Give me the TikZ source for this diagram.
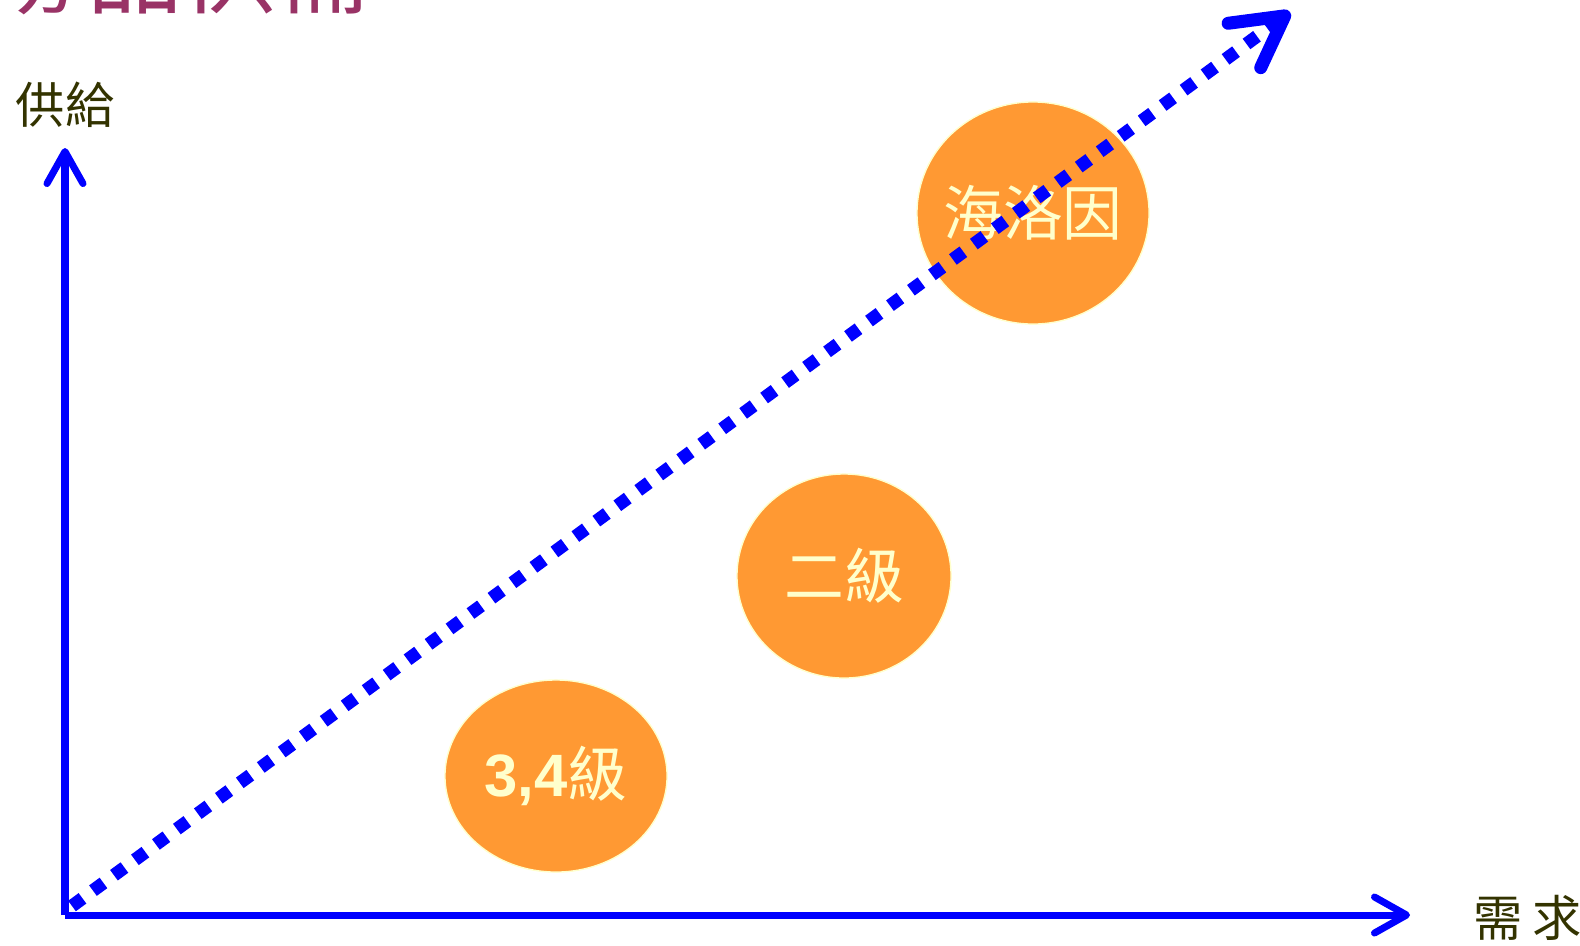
\documentclass[tikz,border=0pt]{standalone}
\usepackage{fontspec}
\usepackage{xcolor}
\usetikzlibrary{positioning,arrows.meta,shapes.geometric}
\newfontfamily\cjk{Noto Sans CJK TC}
\newfontfamily\numfont{Liberation Sans}
\definecolor{axisblue}{HTML}{0000FF}
\definecolor{blobfill}{HTML}{FF9933}
\definecolor{blobtext}{HTML}{FFFFCC}
\definecolor{labelolive}{HTML}{333300}
\definecolor{titlemag}{HTML}{993366}
\tikzset{
  axis/.style={axisblue,line width=0.07cm,-{Straight Barb[length=0.32cm,width=0.36cm,round]}},
  blob/.style={ellipse,fill=blobfill,draw=blobtext,line width=0.4pt,inner sep=0pt},
  blobtxt/.style={text=blobtext,inner sep=0pt,font=\cjk\fontsize{17pt}{20pt}\selectfont},
  axislabel/.style={text=labelolive,font=\cjk\fontsize{14pt}{16pt}\selectfont,inner sep=0pt}
}
\begin{document}
\begin{tikzpicture}[x=0.01cm,y=-0.01cm]
\useasboundingbox (0,0) rectangle (1580,945);
\node[anchor=base west,inner sep=0pt,text=titlemag,font=\cjk\fontsize{27pt}{28pt}\selectfont] (title) at (-8,6) {毒品供需};
\coordinate (origin) at (65,915);
\coordinate (ytop) at (65,148);
\coordinate (xend) at (1410,915);
\coordinate (dstart) at (72,906);
\coordinate (dend) at (1290,12);
\node[blob,minimum width=2.32cm,minimum height=2.22cm,label={[blobtxt]center:海洛因}] (heroin) at (1033,213) {};
\node[blob,minimum width=2.14cm,minimum height=2.04cm,label={[blobtxt]center:二級}] (second) at (844,576) {};
\node[blob,minimum width=2.22cm,minimum height=1.92cm,label={[blobtxt]center:{\numfont\bfseries 3,4}級}] (third) at (556,776) {};
\draw[axis] (origin) -- (ytop);
\draw[axis] (origin) -- (xend);
\draw[axisblue,line width=0.13cm,dash pattern=on 0.13cm off 0.13cm,
  -{Straight Barb[length=0.5cm,width=0.55cm,round]}] (dstart) -- (dend);
\node[axislabel] (supply) at (65,105) {供給};
\node[axislabel] (demand) at (1528,918) {需\hspace{0.2em}求};
\end{tikzpicture}
\end{document}
